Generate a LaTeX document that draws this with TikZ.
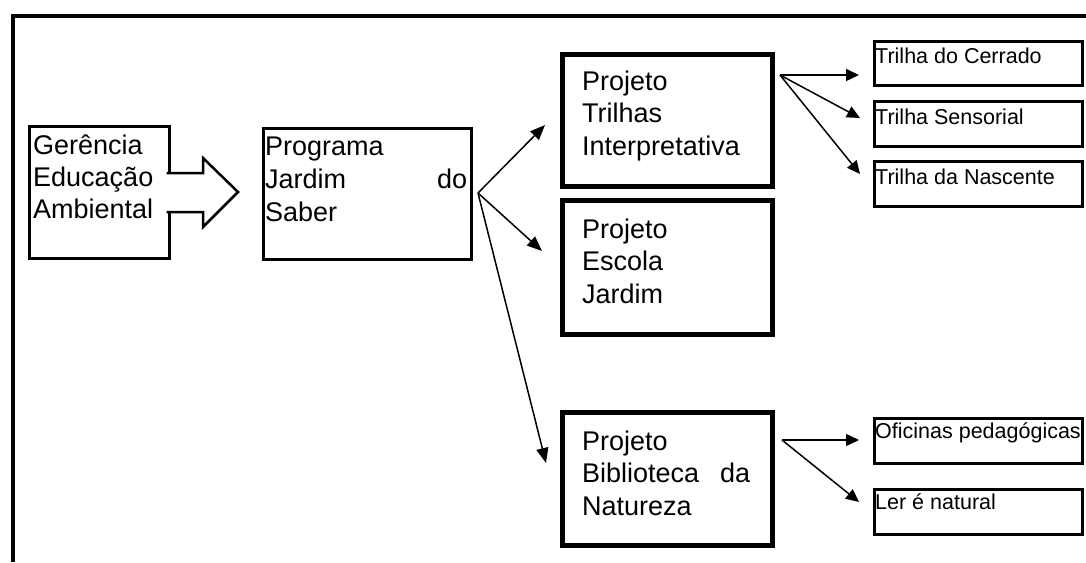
\documentclass[tikz,border=0pt]{standalone}
\usepackage{fontspec}
\setmainfont{Liberation Sans}
\usetikzlibrary{arrows.meta}
\newcommand\tstrut{\rule{0pt}{25pt}}
\tikzset{
  thinbox/.style={draw, line width=2.5pt, inner sep=0pt, anchor=north west},
  thickbox/.style={draw, line width=5pt, inner sep=0pt, anchor=north west, minimum width=210pt, minimum height=132pt},
  smallbox/.style={draw, line width=3pt, inner sep=0pt, anchor=north west, minimum width=208pt, minimum height=45pt},
  bigtext/.style={inner sep=0pt, anchor=north west, align=left, font=\fontsize{27}{32.5}\selectfont},
  smalltext/.style={inner sep=0pt, anchor=base west, font=\fontsize{21.5}{26}\selectfont},
  conn/.style={line width=1.5pt, -{Triangle[length=15pt,width=12pt]}},
  sconn/.style={line width=1.5pt, -{Triangle[length=13pt,width=12pt]}},
}
\begin{document}
\begin{tikzpicture}[x=1pt,y=-1pt]
\useasboundingbox (0,0) rectangle (1086,562);
\fill[white] (0,0) rectangle (1086,562);
% outer frame
\draw[line width=4pt] (12.5,562) -- (12.5,16) -- (1086,16);

% left boxes
\node[thinbox, minimum width=140pt, minimum height=132pt] (ger) at (28,125) {};
\node[bigtext, font=\fontsize{27}{32}\selectfont] (gertext) at (33,129) {\tstrut Gerência\\Educação\\Ambiental};
\node[thinbox, minimum width=208pt, minimum height=131pt] (prog) at (262,127) {};
\node[bigtext, text width=202pt, font=\fontsize{27}{33}\selectfont] (progtext) at (265,130) {\tstrut Programa\\Jardim\hfill do\\Saber};

% block arrow
\path[draw, fill=white, line width=2.5pt, line join=miter]
  (166.5,173) -- (203,173) -- (203,158) -- (238,192) -- (203,227) -- (203,212) -- (166.5,212);

% project boxes
\node[thickbox] (tri) at (560,52) {};
\node[bigtext] (tritext) at (582,65) {\tstrut Projeto\\Trilhas\\Interpretativa};
\node[thickbox, minimum height=134pt] (esc) at (560,198) {};
\node[bigtext] (esctext) at (582,213) {\tstrut Projeto\\Escola\\Jardim};
\node[thickbox, minimum height=133pt] (bib) at (560,410) {};
\node[bigtext, text width=168pt] (bibtext) at (582,425) {\tstrut Projeto\\Biblioteca\hfill da\\Natureza};

% small boxes
\node[smallbox, minimum height=44pt] (cer) at (873,40) {};
\node[smalltext] at (875,63) {Trilha do Cerrado};
\node[smallbox] (sen) at (873,100) {};
\node[smalltext] at (875,124) {Trilha Sensorial};
\node[smallbox] (nas) at (873,160) {};
\node[smalltext] at (875,184) {Trilha da Nascente};
\node[smallbox] (ofi) at (873,417) {};
\node[smalltext] at (875,438) {Oficinas pedagógicas};
\node[smallbox] (ler) at (873,488) {};
\node[smalltext] at (875,509) {Ler é natural};

% connectors from Programa
\coordinate (f1) at (478,193);
\coordinate (t1) at (545,125);
\coordinate (t2) at (542,251);
\coordinate (t3) at (546,463);
\draw[conn] (f1) -- (t1);
\draw[conn] (f1) -- (t2);
\draw[conn] (f1) -- (t3);

% connectors from Trilhas
\coordinate (f2) at (780,75);
\coordinate (s1) at (859,75);
\coordinate (s2) at (860,118);
\coordinate (s3) at (860,174);
\draw[sconn] (f2) -- (s1);
\draw[sconn] (f2) -- (s2);
\draw[sconn] (f2) -- (s3);

% connectors from Biblioteca
\coordinate (f3) at (782,440);
\coordinate (s4) at (859,440);
\coordinate (s5) at (859,502);
\draw[sconn] (f3) -- (s4);
\draw[sconn] (f3) -- (s5);
\end{tikzpicture}
\end{document}
